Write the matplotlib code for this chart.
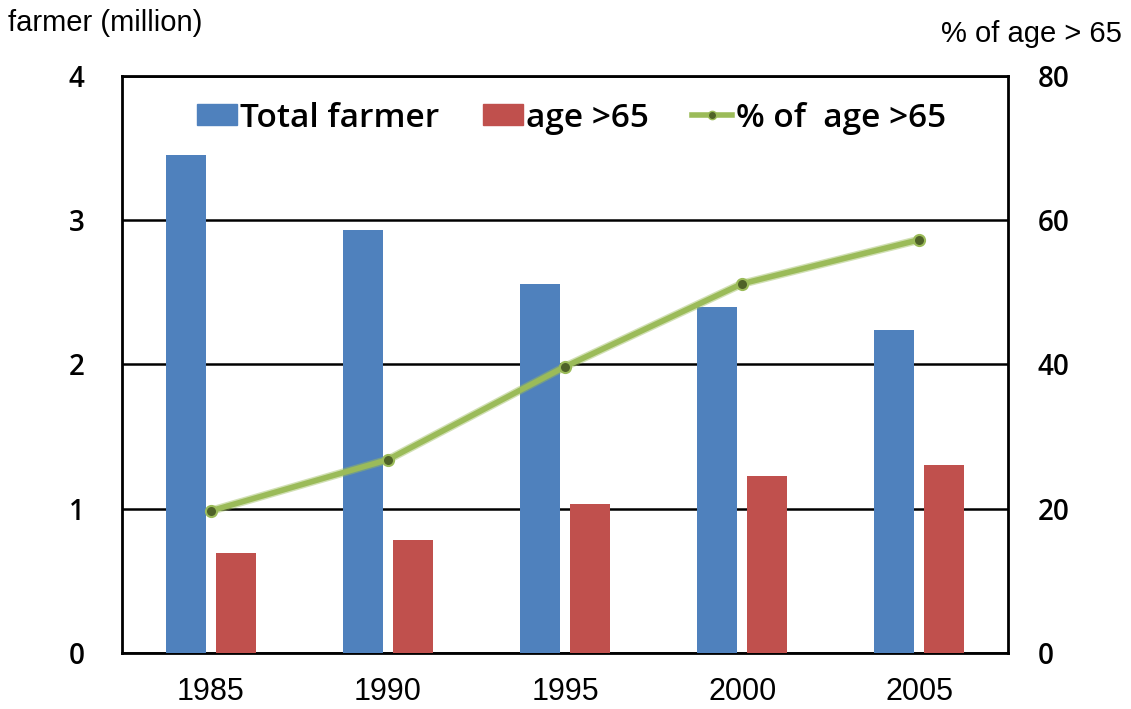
import matplotlib
matplotlib.use("Agg")
import matplotlib.pyplot as plt
import numpy as np
from matplotlib.lines import Line2D
from matplotlib.patches import Patch

years = ["1985", "1990", "1995", "2000", "2005"]
total_farmer = [3.45, 2.93, 2.56, 2.40, 2.24]
age_over_65 = [0.69, 0.78, 1.03, 1.23, 1.30]
pct_over_65 = [19.7, 26.8, 39.7, 51.2, 57.3]
left_ticks = [0, 1, 2, 3, 4]
left_tick_labels = ["0", "1", "2", "3", "4"]
right_ticks = [0, 20, 40, 60, 80]
right_tick_labels = ["0", "20", "40", "60", "80"]

blue = "#4F81BD"
red = "#C0504D"
green = "#9BBB59"
dkgreen = "#4F6228"

fig = plt.figure(figsize=(11.31, 7.09), dpi=100)
ax = fig.add_axes([0.1079, 0.079, 0.7833, 0.8138])
x = np.arange(len(years))
w = 0.226
off = 0.141
ax.bar(x - off, total_farmer, w, color=blue, zorder=3)
ax.bar(x + off, age_over_65, w, color=red, zorder=3)
ax.set_xlim(-0.5, 4.5)
ax.set_ylim(0, 4)
ax.set_yticks(left_ticks)
ax.set_yticklabels(left_tick_labels, fontfamily="Open Sans",
                   fontweight="semibold", fontsize=20)
ax.yaxis.grid(True, color="black", linewidth=1.8, zorder=1)
ax.set_axisbelow(True)
for s in ax.spines.values():
    s.set_linewidth(2)
    s.set_color("black")
ax.tick_params(axis="y", length=0, pad=27)
ax.tick_params(axis="x", length=0, pad=17)
ax.set_xticks(x)
ax.set_xticklabels(years, fontfamily="Liberation Sans", fontsize=22)

ax2 = ax.twinx()
ax2.set_ylim(0, 80)
ax2.set_yticks(right_ticks)
ax2.set_yticklabels(right_tick_labels, fontfamily="Open Sans",
                    fontweight="semibold", fontsize=20)
ax2.tick_params(axis="y", length=0, pad=21.5)
for s in ax2.spines.values():
    s.set_visible(False)
ax2.plot(x, pct_over_65, color=green, linewidth=6, alpha=0.45, zorder=4,
         solid_capstyle="round")
ax2.plot(x, pct_over_65, color=green, linewidth=4, zorder=5,
         marker="o", markersize=8, markerfacecolor=dkgreen,
         markeredgecolor=green, markeredgewidth=1.5, solid_capstyle="round")

fig.text(0.007, 0.968, "farmer (million)", fontsize=21, family="Liberation Sans",
         va="center", ha="left")
fig.text(0.992, 0.952, "% of age > 65", fontsize=21, family="Liberation Sans",
         va="center", ha="right")

handles = [Patch(color=blue), Patch(color=red),
           Line2D([0], [0], color=green, linewidth=4, marker="o", markersize=6,
                  markerfacecolor=dkgreen, markeredgecolor=green)]
labels = ["Total farmer", "age >65", "% of  age >65"]
leg = ax.legend(handles, labels, loc="center", bbox_to_anchor=(0.507, 0.927),
                ncol=3, frameon=False,
                prop={"family": "Open Sans", "size": 24, "weight": "semibold"},
                handlelength=1.2, handleheight=0.6, handletextpad=0.1,
                columnspacing=1.3)
fig.savefig("out.png", dpi=100)
